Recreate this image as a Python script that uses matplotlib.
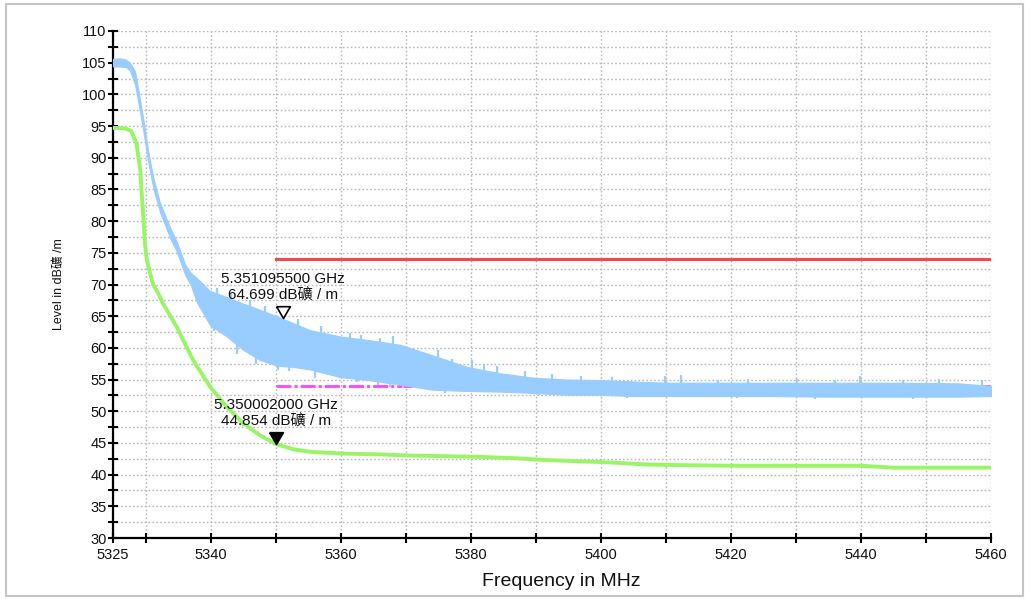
import matplotlib
matplotlib.use("Agg")
import matplotlib.pyplot as plt
from matplotlib.patches import Rectangle
from matplotlib.ticker import FixedLocator, NullFormatter, FixedFormatter

plt.rcParams['font.family'] = ['Liberation Sans', 'Noto Sans CJK SC', 'DejaVu Sans']

# ---- data ----
# Peak trace (light blue): envelope of the noisy trace
blue_freq = [5325, 5326, 5327, 5327.6, 5328.4, 5329.2, 5329.7, 5330.4, 5331.2, 5332.2,
             5333.8, 5334.8, 5336.1, 5337.0, 5337.9, 5339.9, 5342.5, 5345, 5347.6, 5350.2,
             5352.7, 5355.3, 5359.9, 5364.5, 5369.1, 5374.2, 5379.4, 5384.5, 5389.6, 5394.8,
             5400, 5405, 5410, 5415, 5425, 5435, 5445, 5455, 5460]
blue_upper = [105.6, 105.7, 105.5, 105.0, 103.6, 98.9, 95.8, 91.0, 86.8, 83.0,
              78.9, 76.8, 73.1, 71.8, 71.0, 69.0, 68.0, 67.0, 66.0, 65.0,
              63.9, 62.8, 61.8, 61.2, 60.5, 58.8, 57.0, 56.0, 55.3, 55.0,
              54.9, 54.7, 54.5, 54.5, 54.5, 54.5, 54.5, 54.4, 54.0]
blue_lower = [104.4, 104.4, 104.3, 103.8, 101.5, 97.0, 94.0, 89.4, 85.2, 81.5,
              77.3, 75.2, 71.5, 69.8, 67.2, 63.6, 61.8, 59.7, 58.1, 57.2,
              57.0, 56.6, 55.4, 54.9, 54.2, 53.4, 53.2, 53.1, 52.9, 52.6,
              52.6, 52.4, 52.4, 52.4, 52.4, 52.3, 52.3, 52.3, 52.4]
# visible upward spikes of the peak trace (frequency, top level)
spike_freq = [5341.0, 5343.2, 5346.1, 5348.3, 5351.1, 5353.5, 5357.0, 5361.4, 5363.2,
              5366.0, 5368.1, 5369.4, 5371.7, 5373.0, 5375.0, 5377.1, 5380.2, 5382.0,
              5384.0, 5388.3, 5392.5, 5397.0, 5401.8, 5409.9, 5412.4, 5418.0, 5422.6,
              5430.1, 5436.0, 5439.9, 5446.5, 5452.0, 5458.6]
spike_top = [69.4, 68.6, 67.6, 66.6, 64.7, 64.6, 63.5, 62.3, 62.0,
             61.6, 61.8, 60.3, 59.2, 59.0, 59.7, 58.2, 58.1, 57.4,
             57.1, 56.3, 55.8, 55.6, 55.4, 55.6, 55.7, 55.0, 55.1,
             55.1, 55.0, 55.5, 55.0, 55.1, 54.9]
# visible downward dips of the peak trace (frequency, bottom level)
dip_freq = [5340.6, 5344.0, 5347.0, 5350.4, 5352.0, 5356.1, 5358.4, 5362.5, 5365.8,
            5367.6, 5369.6, 5376.0, 5390.5, 5404.0, 5421.0, 5433.0, 5448.0]
dip_level = [62.6, 59.0, 57.4, 56.5, 56.4, 55.2, 56.0, 54.6, 54.2,
             53.9, 53.7, 52.9, 52.5, 52.1, 52.1, 52.0, 52.0]

# Average trace (light green)
green_freq = [5325, 5326, 5327, 5327.8, 5328.6, 5329.2, 5329.4, 5329.7, 5329.9, 5330.2,
              5330.7, 5331.2, 5331.7, 5332.7, 5334.8, 5337.3, 5339.9, 5342.5, 5345,
              5347.6, 5350.0, 5352.7, 5355.3, 5360.9, 5366, 5371.1, 5376.3, 5381.4,
              5386.5, 5391.7, 5396.8, 5401.9, 5407.1, 5412.2, 5420, 5430, 5440,
              5445, 5450, 5460]
green_level = [94.7, 94.7, 94.6, 94.2, 92.3, 88.0, 84.5, 80.2, 76.5, 73.9,
               71.8, 69.9, 69.1, 67.0, 63.3, 58.1, 53.9, 50.7, 48.1,
               46.2, 44.854, 44.0, 43.6, 43.3, 43.2, 43.0, 42.9, 42.8,
               42.6, 42.3, 42.1, 41.9, 41.6, 41.5, 41.4, 41.4, 41.4,
               41.1, 41.1, 41.1]

# Limit lines
limit_freq = [5350, 5460]
peak_limit = [74, 74]
avg_limit = [54, 54]

# Markers
m1_freq, m1_level = 5351.0955, 64.699
m2_freq, m2_level = 5350.002, 44.854
m1_text = "5.351095500 GHz\n64.699 dB礦 / m"
m2_text = "5.350002000 GHz\n44.854 dB礦 / m"

x_major = [5325, 5340, 5360, 5380, 5400, 5420, 5440, 5460]
x_minor = [5330, 5350, 5370, 5390, 5410, 5430, 5450]
y_major = list(range(30, 111, 5))
y_minor = [v + 2.5 for v in range(30, 110, 5)]

# ---- figure ----
fig = plt.figure(figsize=(10.30, 5.99), dpi=100)
fig.patches.append(Rectangle((6 / 1030, 1 - 596 / 599), 1017 / 1030, 592 / 599,
                             transform=fig.transFigure, fill=False,
                             edgecolor='#c4c4c4', linewidth=1.5))
ax = fig.add_axes([113 / 1030, 1 - 538 / 599, 878 / 1030, 507 / 599])

ax.plot(limit_freq, avg_limit, color='#ff44ff', lw=2.0,
        linestyle=(0, (5.4, 1.1, 1.1, 1.1)), zorder=2)
ax.plot(limit_freq, peak_limit, color='#f24a4a', lw=2.2, zorder=2)
ax.fill_between(blue_freq, blue_lower, blue_upper, color='#99ccff', lw=0.8,
                edgecolor='#99ccff', zorder=3)
ax.vlines(spike_freq, [u - 2.0 for u in spike_top], spike_top, color='#99ccff',
          lw=1.6, zorder=3)
ax.vlines(dip_freq, dip_level, [d + 2.0 for d in dip_level], color='#99ccff',
          lw=1.6, zorder=3)
ax.plot(green_freq, green_level, color='#99f566', lw=2.8, zorder=4,
        solid_joinstyle='miter')

# markers with apex on the data point
tri = [(-0.58, 1.0), (0.58, 1.0), (0.0, 0.0), (-0.58, 1.0)]
ax.plot([m1_freq], [m1_level], marker=tri, markersize=17, markerfacecolor='white',
        markeredgecolor='black', markeredgewidth=1.2, linestyle='none', zorder=6)
ax.plot([m2_freq], [m2_level], marker=tri, markersize=17, markerfacecolor='black',
        markeredgecolor='black', markeredgewidth=1.2, linestyle='none', zorder=6)
for f, v, t in [(m1_freq, m1_level, m1_text), (m2_freq, m2_level, m2_text)]:
    ax.annotate(t, xy=(f, v), xytext=(0, 11.5), textcoords='offset points',
                ha='center', va='bottom', fontsize=11, linespacing=1.15,
                color='#111111', zorder=7)

ax.set_xlim(5325, 5460)
ax.set_ylim(30, 110)

ax.xaxis.set_major_locator(FixedLocator(x_major))
ax.xaxis.set_major_formatter(FixedFormatter([str(v) for v in x_major]))
ax.xaxis.set_minor_locator(FixedLocator(x_minor))
ax.xaxis.set_minor_formatter(NullFormatter())
ax.yaxis.set_major_locator(FixedLocator(y_major))
ax.yaxis.set_minor_locator(FixedLocator(y_minor))
ax.yaxis.set_minor_formatter(NullFormatter())

for s in ['top', 'right']:
    ax.spines[s].set_visible(False)
for s in ['left', 'bottom']:
    ax.spines[s].set_linewidth(1.6)
    ax.spines[s].set_color('black')

ax.tick_params(which='both', direction='inout', length=7, width=1.5, colors='black')
ax.tick_params(axis='y', which='major', labelsize=10.5, pad=1, labelcolor='#111111')
ax.tick_params(axis='x', which='major', labelsize=10.5, pad=4, labelcolor='#111111')

ax.grid(which='both', color='#b8b8b8', linestyle=(0, (1.2, 1.6)), linewidth=1.0)
ax.set_axisbelow(True)

ax.set_ylabel("Level in dB礦 /m", fontsize=9, labelpad=12, color='#111111')
fig.text(561 / 1030, 1 - 581 / 599, "Frequency in MHz", ha='center', va='center',
         fontsize=14, color='#111111')

fig.savefig("out.png", dpi=100)
